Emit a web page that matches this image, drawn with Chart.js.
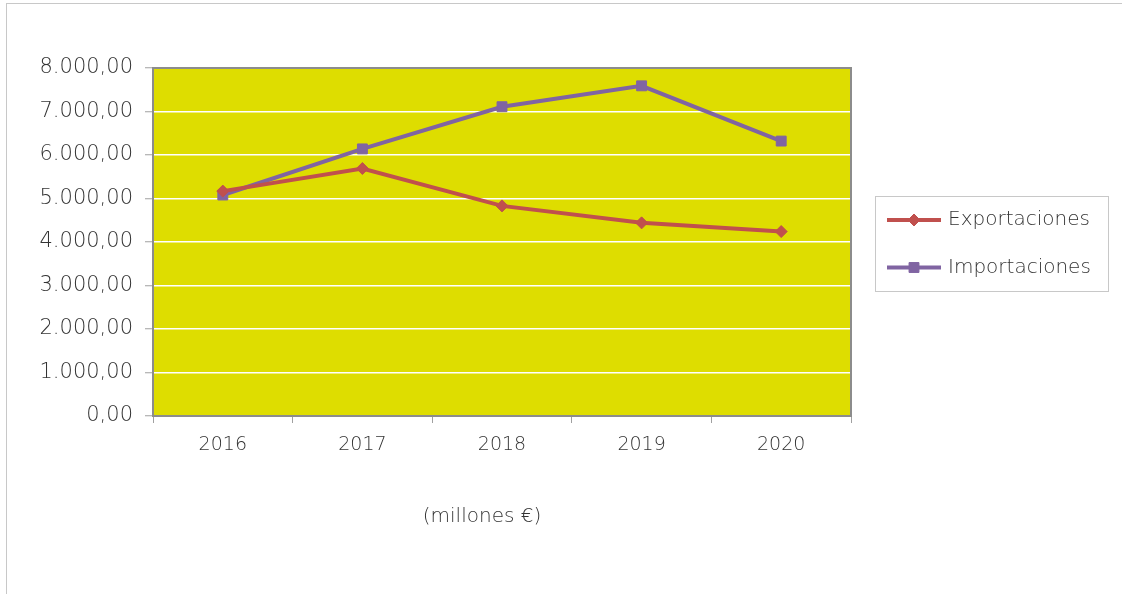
<!DOCTYPE html>
<html>
<head>
<meta charset="utf-8">
<script src="https://cdn.jsdelivr.net/npm/chart.js@4"></script>
<style>
  html, body { margin: 0; padding: 0; background: #fff; }
  #wrap { position: relative; width: 1122px; height: 594px; overflow: hidden; }
  #frame { position: absolute; left: 6px; top: 3px; width: 1200px; height: 700px;
           border-left: 1px solid #c8c8c8; border-top: 1px solid #c8c8c8; }
  #myChart { position: absolute; left: 0; top: 0; }
</style>
</head>
<body>
<div id="wrap">
  <div id="frame"></div>
  <canvas id="myChart" width="1122" height="594"></canvas>
</div>
<script>
// datos (millones de euros)
var categories = ['2016', '2017', '2018', '2019', '2020'];
var exportaciones = [5170, 5690, 4830, 4440, 4240];
var importaciones = [5080, 6140, 7110, 7590, 6320];
var yMin = 0, yMax = 8000, yStep = 1000;
var captionText = '(millones €)';

var FONT = "'DejaVu Sans', sans-serif";
var WEIGHT = 200;
var TEXT = '#333333';

function formatNumber(v) {
    var parts = Math.abs(v).toFixed(2).split('.');
    var ent = parts[0].replace(/\B(?=(\d{3})+(?!\d))/g, '.');
    return (v < 0 ? '-' : '') + ent + ',' + parts[1];
}

// fondo del área de trazado, borde, leyenda y nota
var plotDecor = {
    id: 'plotDecor',
    beforeDraw: function(chart) {
        var a = chart.chartArea, ctx = chart.ctx;
        ctx.save();
        ctx.fillStyle = '#dedd00';
        ctx.fillRect(a.left, a.top, a.right - a.left, a.bottom - a.top);
        ctx.restore();
    },
    beforeDatasetsDraw: function(chart) {
        var a = chart.chartArea, ctx = chart.ctx;
        ctx.save();
        ctx.strokeStyle = '#8c8c8c';
        ctx.lineWidth = 2;
        ctx.strokeRect(a.left, a.top, a.right - a.left, a.bottom - a.top);
        ctx.restore();
    },
    afterDraw: function(chart) {
        var ctx = chart.ctx;
        ctx.save();
        // leyenda
        ctx.strokeStyle = '#c8c8c8';
        ctx.lineWidth = 1;
        ctx.strokeRect(875.5, 196.5, 233, 95);
        chart.data.datasets.forEach(function(ds, i) {
            var y = 220 + i * 47.5;
            ctx.strokeStyle = ds.borderColor;
            ctx.lineWidth = ds.borderWidth;
            ctx.beginPath();
            ctx.moveTo(887, y);
            ctx.lineTo(941, y);
            ctx.stroke();
            ctx.fillStyle = ds.pointBackgroundColor;
            ctx.strokeStyle = ds.pointBorderColor;
            ctx.lineWidth = ds.pointBorderWidth;
            Chart.helpers.drawPoint(ctx, {
                pointStyle: ds.pointStyle,
                radius: ds.pointRadius,
                rotation: 0,
                borderWidth: ds.pointBorderWidth
            }, 914, y);
            ctx.fillStyle = TEXT;
            ctx.font = WEIGHT + ' 20px ' + FONT;
            ctx.textAlign = 'left';
            ctx.textBaseline = 'middle';
            ctx.fillText(ds.label, 948, y);
        });
        // nota de unidades
        ctx.fillStyle = TEXT;
        ctx.font = WEIGHT + ' 20px ' + FONT;
        ctx.textAlign = 'center';
        ctx.textBaseline = 'middle';
        ctx.fillText(captionText, 482, 517);
        ctx.restore();
    }
};

var ctx = document.getElementById('myChart').getContext('2d');
var myChart = new Chart(ctx, {
    type: 'line',
    data: {
        labels: categories,
        datasets: [{
            label: 'Exportaciones',
            data: exportaciones,
            borderColor: '#c0504d',
            backgroundColor: '#c0504d',
            borderWidth: 4,
            pointStyle: 'rectRot',
            pointRadius: 6,
            pointBackgroundColor: '#c0504d',
            pointBorderColor: '#c0504d',
            pointBorderWidth: 1,
            tension: 0,
            fill: false
        }, {
            label: 'Importaciones',
            data: importaciones,
            borderColor: '#8064a2',
            backgroundColor: '#8064a2',
            borderWidth: 4,
            pointStyle: 'rect',
            pointRadius: 7,
            pointBackgroundColor: '#8064a2',
            pointBorderColor: '#8064a2',
            pointBorderWidth: 1,
            tension: 0,
            fill: false
        }]
    },
    options: {
        responsive: false,
        animation: false,
        layout: {
            padding: { left: 0, top: 68, right: 271, bottom: 138 }
        },
        plugins: {
            legend: { display: false },
            tooltip: { enabled: false }
        },
        scales: {
            x: {
                offset: true,
                grid: {
                    offset: true,
                    drawOnChartArea: false,
                    tickLength: 7,
                    tickColor: '#a0a0a0',
                    tickWidth: 1
                },
                border: { display: false },
                ticks: {
                    color: TEXT,
                    font: { family: FONT, size: 19, weight: WEIGHT },
                    padding: 11,
                    maxRotation: 0
                },
                afterFit: function(scale) { scale.height = 40; }
            },
            y: {
                min: yMin,
                max: yMax,
                ticks: {
                    stepSize: yStep,
                    color: TEXT,
                    font: { family: FONT, size: 21, weight: WEIGHT },
                    padding: 12,
                    callback: function(value) { return formatNumber(value); }
                },
                grid: {
                    color: '#ffffff',
                    lineWidth: 1.5,
                    tickLength: 8,
                    tickColor: '#a0a0a0',
                    tickWidth: 1
                },
                border: { display: false },
                afterFit: function(scale) { scale.width = 153; }
            }
        }
    },
    plugins: [plotDecor]
});
</script>
</body>
</html>
